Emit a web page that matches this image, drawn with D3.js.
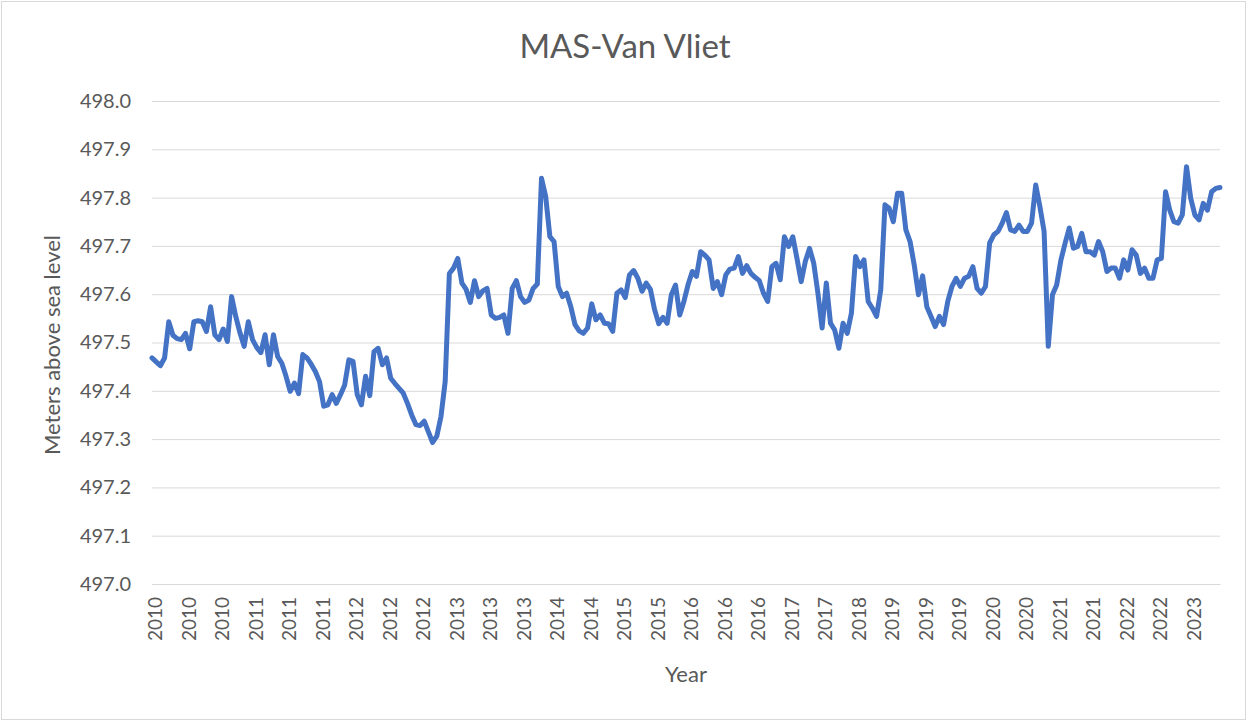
<!DOCTYPE html>
<html>
<head>
<meta charset="utf-8">
<script src="https://cdn.jsdelivr.net/npm/d3@7"></script>
<style>
  body { margin: 0; background: #ffffff; }
  text { font-family: Lato, "Open Sans", sans-serif; fill: #595959; }
</style>
</head>
<body>
<div id="chart"></div>
<script>
// tick labels on the category axis (one every 8 readings)
var yearLabels = ["2010","2010","2010","2011","2011","2011","2012","2012","2012","2013","2013","2013",
  "2014","2014","2015","2015","2016","2016","2016","2017","2017","2018","2019","2019","2019",
  "2020","2020","2021","2021","2022","2022","2023"];
var labelEvery = 8;

// water level readings, meters above sea level
var levels = [
  497.468,497.460,497.452,497.468,497.543,497.515,497.508,497.506,497.519,497.487,
  497.543,497.545,497.543,497.523,497.574,497.516,497.506,497.528,497.502,497.595,
  497.554,497.520,497.492,497.543,497.506,497.490,497.479,497.516,497.454,497.516,
  497.471,497.457,497.430,497.399,497.416,497.394,497.475,497.468,497.455,497.440,
  497.419,497.368,497.371,497.392,497.374,497.392,497.412,497.464,497.461,497.392,
  497.371,497.430,497.390,497.481,497.488,497.454,497.468,497.426,497.415,497.405,
  497.395,497.374,497.350,497.330,497.328,497.337,497.315,497.293,497.306,497.347,
  497.419,497.643,497.654,497.674,497.623,497.610,497.583,497.628,497.595,497.607,
  497.612,497.557,497.550,497.552,497.557,497.519,497.612,497.628,497.595,497.583,
  497.588,497.612,497.621,497.840,497.802,497.719,497.709,497.616,497.595,497.602,
  497.574,497.537,497.524,497.519,497.530,497.580,497.547,497.557,497.540,497.539,
  497.523,497.602,497.609,497.593,497.640,497.649,497.633,497.606,497.623,497.610,
  497.568,497.539,497.552,497.540,497.599,497.619,497.557,497.585,497.620,497.647,
  497.637,497.688,497.681,497.671,497.612,497.626,497.599,497.640,497.652,497.654,
  497.678,497.643,497.659,497.643,497.635,497.628,497.602,497.585,497.657,497.664,
  497.630,497.719,497.699,497.719,497.674,497.626,497.668,497.695,497.664,497.602,
  497.530,497.623,497.540,497.526,497.488,497.540,497.519,497.561,497.678,497.657,
  497.671,497.585,497.571,497.554,497.609,497.785,497.778,497.750,497.809,497.809,
  497.733,497.709,497.660,497.599,497.638,497.574,497.554,497.533,497.554,497.537,
  497.585,497.616,497.633,497.616,497.633,497.637,497.657,497.612,497.602,497.616,
  497.706,497.723,497.730,497.747,497.769,497.733,497.730,497.743,497.730,497.730,
  497.747,497.826,497.781,497.730,497.492,497.599,497.619,497.670,497.705,497.737,
  497.695,497.699,497.726,497.688,497.688,497.681,497.709,497.688,497.647,497.654,
  497.654,497.633,497.671,497.650,497.692,497.681,497.643,497.654,497.633,497.633,
  497.671,497.674,497.812,497.774,497.750,497.747,497.764,497.864,497.799,497.764,
  497.754,497.788,497.774,497.812,497.819,497.821
];

var yTicks = [497.0,497.1,497.2,497.3,497.4,497.5,497.6,497.7,497.8,497.9,498.0];

var W = 1249, H = 722;
var margin = {top: 101, right: 29, bottom: 138, left: 152};
var width = W - margin.left - margin.right;
var height = H - margin.top - margin.bottom;

var svg = d3.select("#chart")
  .append("svg")
  .attr("width", W)
  .attr("height", H);

// chart area border
svg.append("rect")
  .attr("x", 1.5).attr("y", 1.5)
  .attr("width", W - 5).attr("height", H - 4)
  .attr("fill", "#ffffff")
  .attr("stroke", "#d9d9d9")
  .attr("stroke-width", 1);

var g = svg.append("g")
  .attr("transform", "translate(" + margin.left + "," + margin.top + ")");

var x = d3.scalePoint()
  .domain(d3.range(levels.length))
  .range([0, width]);

var y = d3.scaleLinear()
  .domain([497.0, 498.0])
  .range([height, 0]);

// gridlines + y labels
var yAxis = g.append("g")
  .call(d3.axisLeft(y).tickValues(yTicks).tickSize(-width).tickPadding(21).tickFormat(d3.format(".1f")));
yAxis.select(".domain").remove();
yAxis.selectAll("line").attr("stroke", "#d9d9d9").attr("stroke-width", 1);
yAxis.selectAll("text")
  .style("font-size", "20px")
  .attr("fill", "#595959");

// x axis, rotated year labels
var xAxis = g.append("g")
  .attr("transform", "translate(0," + height + ")")
  .call(d3.axisBottom(x)
    .tickValues(d3.range(0, levels.length, labelEvery))
    .tickSize(0)
    .tickFormat(function(d) { return yearLabels[d / labelEvery]; }));
xAxis.select(".domain").attr("stroke", "#d9d9d9");
xAxis.selectAll("text")
  .attr("transform", "translate(3,13)rotate(-90)")
  .attr("dy", "0.35em")
  .attr("x", 0).attr("y", 0)
  .style("text-anchor", "end")
  .style("font-size", "19px")
  .attr("fill", "#595959");

// the line
var line = d3.line()
  .x(function(d, i) { return x(i); })
  .y(function(d) { return y(d); });

g.append("path")
  .datum(levels)
  .attr("d", line)
  .attr("fill", "none")
  .attr("stroke", "#4472c4")
  .attr("stroke-width", 5)
  .attr("stroke-linejoin", "round")
  .attr("stroke-linecap", "round");

// Title
svg.append("text")
  .attr("x", 625)
  .attr("y", 58)
  .attr("text-anchor", "middle")
  .style("font-size", "33px")
  .text("MAS-Van Vliet");

// X label
svg.append("text")
  .attr("x", 686)
  .attr("y", 682)
  .attr("text-anchor", "middle")
  .style("font-size", "22px")
  .text("Year");

// Y label
svg.append("text")
  .attr("text-anchor", "middle")
  .attr("transform", "translate(60,345)rotate(-90)")
  .style("font-size", "22px")
  .text("Meters above sea level");
</script>
</body>
</html>
